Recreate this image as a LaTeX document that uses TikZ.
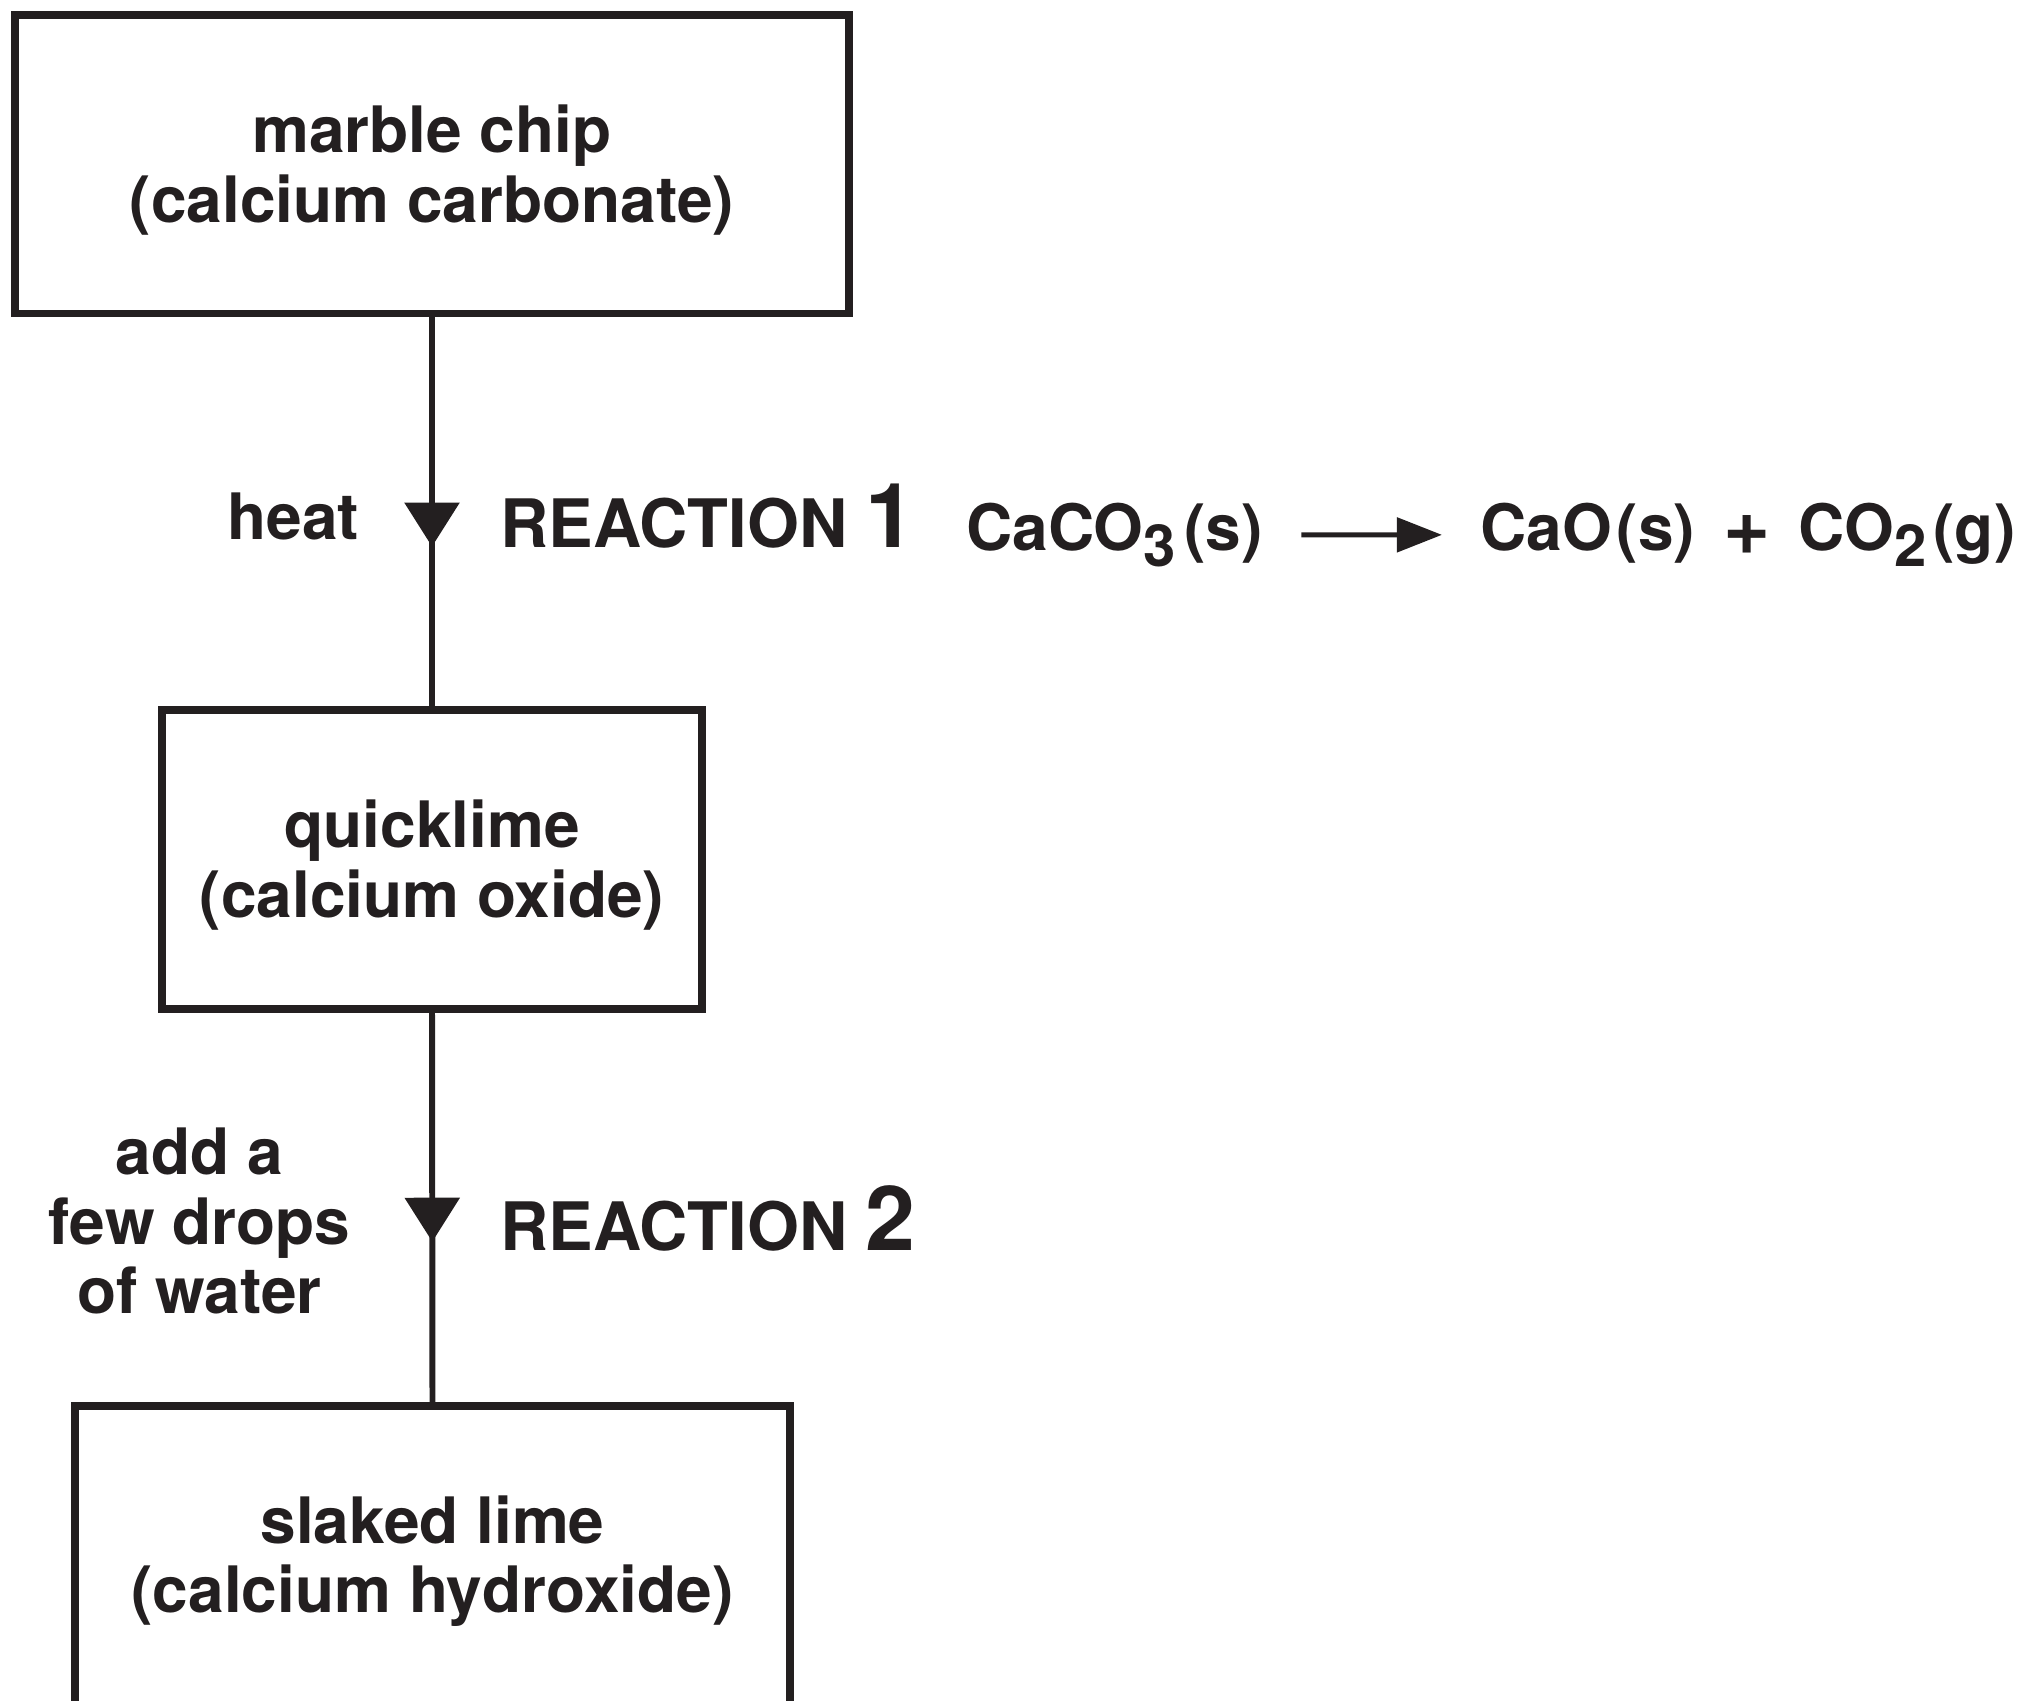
\documentclass[tikz,border=0pt]{standalone}
\usepackage{fontspec}
\setmainfont{TeX Gyre Heros}
\usetikzlibrary{arrows.meta,decorations.markings}
\definecolor{ink}{RGB}{35,31,32}
\newcommand{\chemsub}[1]{\raisebox{-4.4pt}{\fontsize{16.5}{16.5}\selectfont #1}}
\newcommand{\chemplus}{\raisebox{-1.2pt}{\fontsize{23}{23}\selectfont +}}
\newcommand{\boxstrut}{\rule{0pt}{16.7pt}}

\begin{document}
\begin{tikzpicture}[x=0.01cm, y=-0.01cm,
		every node/.style={text=ink, inner sep=0pt, font=\fontsize{18.2}{19.8}\selectfont\bfseries},
		stagebox/.style={draw=ink, line width=2.2pt, minimum height=2.985cm, align=center},
		flowline/.style={draw=ink, line width=1.7pt, postaction={decorate},
			decoration={markings, mark=at position 2.29cm with {\arrow{Triangle[length=0.44cm, width=0.54cm]}}}},
		eqarrow/.style={draw=ink, line width=1.4pt, -{Triangle[length=0.45cm, width=0.34cm]},
			shorten <=0.38cm, shorten >=0.38cm},
		reaction/.style={anchor=base west, font=\fontsize{19}{20}\selectfont\bfseries}]
		%%%%% START %%%%%
		\useasboundingbox (0,0) rectangle (2031,1700);
		
		% the three stages
		\node[stagebox, minimum width=8.34cm] (chip) at (432,164.25) {\boxstrut marble chip\\(calcium carbonate)};
		\node[stagebox, minimum width=5.40cm] (quicklime) at (432,859.4) {\boxstrut quicklime\\(calcium oxide)};
		\node[stagebox, minimum width=7.15cm] (slaked) at (432.5,1555.5) {\boxstrut slaked lime\\(calcium hydroxide)};
		
		\draw[flowline] (chip.south) -- (quicklime.north);
		\draw[flowline] (quicklime.south) -- (slaked.north);
		
		% conditions and reaction names
		\node[anchor=base east] (heat) at (360,539) {heat};
		\node[reaction] (react1) at (500,547) {REACTION {\fontsize{25.5}{25}\selectfont 1}};
		\node[anchor=north, align=center] (water) at (199.5,1127) {add a\\few drops\\of water};
		\node[reaction] (react2) at (500,1250) {REACTION {\fontsize{25.5}{25}\selectfont 2}};
		
		% equation for reaction 1
		\node[anchor=base west] (caco3) at (965.5,550.7) {CaCO\chemsub{3}\hspace{2.4pt}(s)};
		\node[anchor=base west] (products) at (1480,550.7) {CaO\hspace{1.3pt}(s)\hspace{8pt}\chemplus\hspace{8pt}CO\chemsub{2}\hspace{2pt}(g)};
		\draw[eqarrow] (caco3) -- (products);
		
		%%%%% END %%%%%
\end{tikzpicture}
\end{document}
